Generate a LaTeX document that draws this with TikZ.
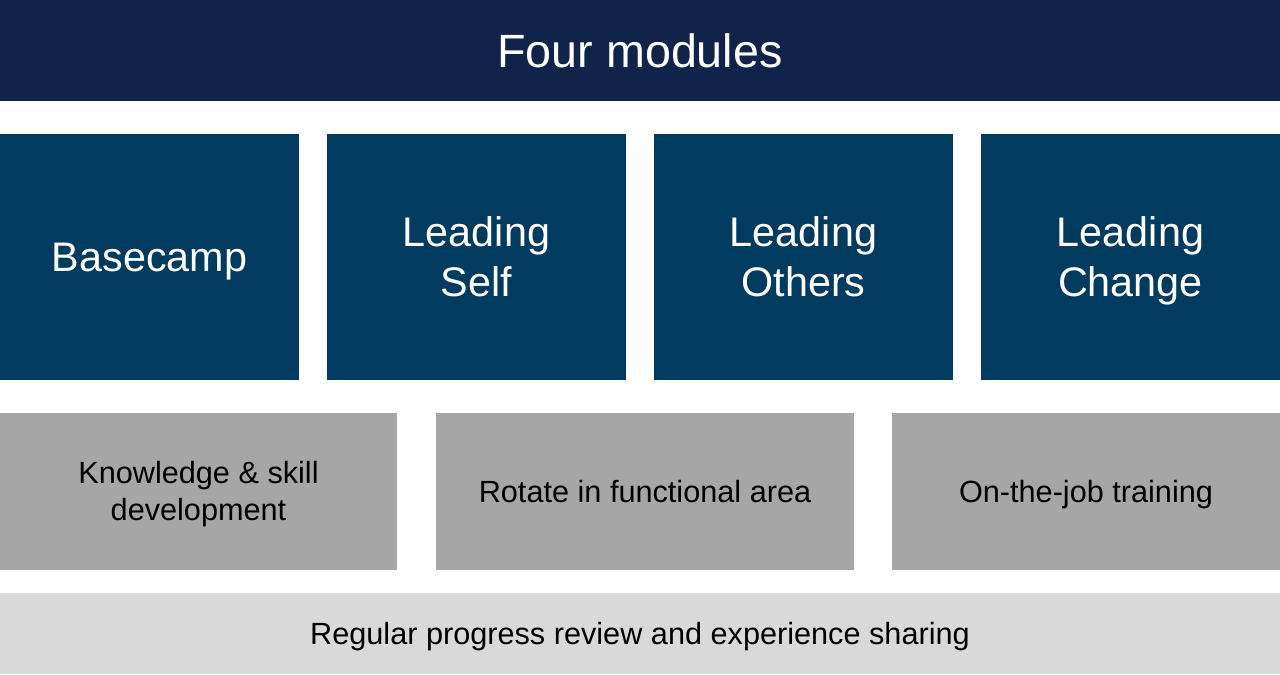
\documentclass[tikz,border=0pt]{standalone}
\usepackage{fontspec}
\setmainfont{Liberation Sans}
\definecolor{navy}{HTML}{10234A}
\definecolor{mblue}{HTML}{013B60}
\definecolor{mgray}{HTML}{A6A6A6}
\definecolor{lgray}{HTML}{D9D9D9}
\begin{document}
\begin{tikzpicture}[x=0.75pt,y=-0.75pt,
  box/.style={inner sep=0pt,outer sep=0pt,draw=none},
  topbar/.style={box,fill=navy},
  modbox/.style={box,fill=mblue,minimum width=299*0.75pt,minimum height=246*0.75pt},
  graybox/.style={box,fill=mgray,minimum height=157*0.75pt},
  basebox/.style={box,fill=lgray},
  txt/.style={inner sep=0pt,anchor=base},
  toptxt/.style={txt,text=white,font=\fontsize{35}{42}\selectfont},
  modtxt/.style={txt,text=white,font=\fontsize{31}{37}\selectfont},
  graytxt/.style={txt,text=black,font=\fontsize{23}{28}\selectfont}]
\useasboundingbox (0,0) rectangle (1280,674);
% boxes
\node[topbar,minimum width=1280*0.75pt,minimum height=101*0.75pt] (top) at (640,50.5) {};
\node[modbox] (m1) at (149.5,257) {};
\node[modbox] (m2) at (476.5,257) {};
\node[modbox] (m3) at (803.5,257) {};
\node[modbox] (m4) at (1130.5,257) {};
\node[graybox,minimum width=397*0.75pt] (g1) at (198.5,491) {};
\node[graybox,minimum width=418*0.75pt] (g2) at (645,491) {};
\node[graybox,minimum width=388*0.75pt] (g3) at (1086,491) {};
\node[basebox,minimum width=1280*0.75pt,minimum height=81*0.75pt] (b) at (640,633.5) {};
% texts
\node[toptxt] (ttop) at (640,67.8) {Four modules};
\node[modtxt] (t1) at (149.5,271.5) {Basecamp};
\node[modtxt] (t2a) at (476.5,246.7) {Leading};
\node[modtxt] (t2b) at (476.5,296.7) {Self};
\node[modtxt] (t3a) at (803.5,246.7) {Leading};
\node[modtxt] (t3b) at (803.5,296.7) {Others};
\node[modtxt] (t4a) at (1130.5,246.7) {Leading};
\node[modtxt] (t4b) at (1130.5,296.7) {Change};
\node[graytxt] (tg1a) at (198.5,483.3) {Knowledge \& skill};
\node[graytxt] (tg1b) at (198.5,520) {development};
\node[graytxt] (tg2) at (645,502) {Rotate in functional area};
\node[graytxt] (tg3) at (1086,502) {On-the-job training};
\node[graytxt] (tb) at (640,644.3) {Regular progress review and experience sharing};
\end{tikzpicture}
\end{document}
